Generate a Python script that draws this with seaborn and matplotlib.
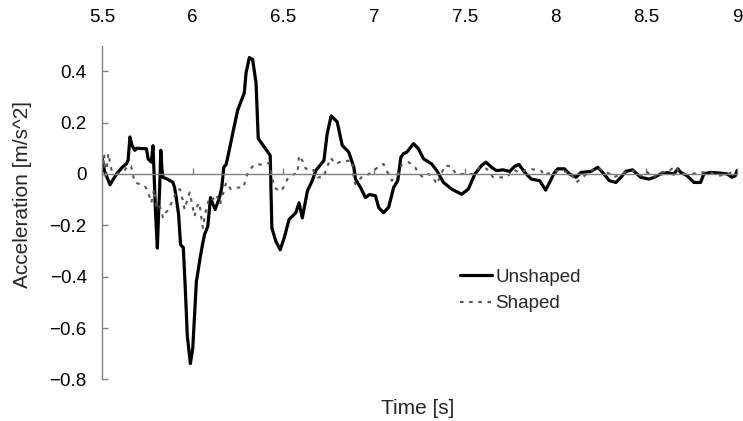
import numpy as np
import pandas as pd
import matplotlib
matplotlib.use('Agg')
import matplotlib.pyplot as plt
import seaborn as sns

sns.set_theme(style='white')
plt.rcParams['font.family'] = ['Liberation Sans', 'DejaVu Sans']
plt.rcParams['axes.unicode_minus'] = True

GRAY = '#808080'

# ── Data ──────────────────────────────────────────────────────────────────────
t_unshaped = [5.500, 5.513, 5.544, 5.580, 5.610, 5.635, 5.644, 5.654, 5.666, 5.681,
              5.690, 5.745, 5.754, 5.772, 5.781, 5.786, 5.795, 5.805, 5.812, 5.818,
              5.824, 5.830, 5.836, 5.860, 5.891, 5.900, 5.909, 5.922, 5.933, 5.948,
              5.959, 5.970, 5.987, 6.000, 6.012, 6.020, 6.040, 6.055, 6.065, 6.083,
              6.098, 6.111, 6.124, 6.147, 6.160, 6.171, 6.184, 6.193, 6.220, 6.248,
              6.284, 6.294, 6.312, 6.330, 6.349, 6.361, 6.394, 6.427, 6.432, 6.436,
              6.458, 6.482, 6.504, 6.531, 6.568, 6.586, 6.604, 6.632, 6.659, 6.678,
              6.723, 6.741, 6.763, 6.796, 6.824, 6.860, 6.888, 6.897, 6.925, 6.952,
              6.975, 7.007, 7.025, 7.052, 7.080, 7.107, 7.130, 7.147, 7.162, 7.180,
              7.217, 7.244, 7.272, 7.317, 7.345, 7.382, 7.427, 7.482, 7.519, 7.555,
              7.592, 7.616, 7.647, 7.674, 7.711, 7.747, 7.775, 7.798, 7.830, 7.866,
              7.912, 7.945, 7.967, 7.994, 8.012, 8.049, 8.076, 8.113, 8.140, 8.195,
              8.232, 8.259, 8.296, 8.332, 8.360, 8.387, 8.424, 8.469, 8.515, 8.543,
              8.579, 8.616, 8.652, 8.674, 8.689, 8.725, 8.762, 8.799, 8.817, 8.853,
              8.899, 8.945, 8.973, 8.990, 9.000]
a_unshaped = [0.065, 0.013, -0.042, 0.000, 0.025, 0.040, 0.055, 0.144, 0.110, 0.092,
              0.100, 0.098, 0.059, 0.046, 0.110, 0.020, -0.150, -0.289, -0.150, -0.050,
              0.092, 0.020, -0.013, -0.020, -0.033, -0.053, -0.092, -0.157, -0.276, -0.286,
              -0.446, -0.630, -0.738, -0.680, -0.525, -0.420, -0.330, -0.270, -0.236, -0.204,
              -0.092, -0.118, -0.138, -0.092, -0.053, 0.026, 0.037, 0.065, 0.157, 0.249,
              0.315, 0.394, 0.453, 0.446, 0.354, 0.138, 0.105, 0.072, -0.080, -0.210,
              -0.262, -0.295, -0.249, -0.177, -0.151, -0.112, -0.171, -0.066, -0.026, 0.013,
              0.052, 0.157, 0.226, 0.203, 0.111, 0.085, 0.026, -0.020, -0.053, -0.092,
              -0.080, -0.085, -0.131, -0.151, -0.129, -0.053, -0.026, 0.065, 0.079, 0.085,
              0.118, 0.098, 0.059, 0.039, 0.013, -0.033, -0.059, -0.079, -0.059, 0.000,
              0.033, 0.046, 0.026, 0.013, 0.016, 0.010, 0.030, 0.037, 0.006, -0.020,
              -0.026, -0.063, -0.033, 0.006, 0.020, 0.020, 0.000, -0.013, 0.006, 0.010,
              0.026, 0.006, -0.026, -0.033, -0.013, 0.010, 0.016, -0.013, -0.020, -0.013,
              0.000, 0.005, 0.000, 0.020, 0.006, -0.007, -0.033, -0.033, 0.000, 0.006,
              0.004, 0.000, -0.013, -0.007, 0.013]

t_shaped = [5.505, 5.512, 5.520, 5.535, 5.553, 5.580, 5.620, 5.644, 5.660, 5.680,
            5.710, 5.736, 5.754, 5.772, 5.787, 5.800, 5.815, 5.827, 5.836, 5.852,
            5.868, 5.891, 5.918, 5.930, 5.946, 5.955, 5.970, 5.983, 6.000, 6.010,
            6.025, 6.037, 6.046, 6.056, 6.070, 6.092, 6.110, 6.130, 6.150, 6.170,
            6.184, 6.210, 6.240, 6.280, 6.294, 6.310, 6.340, 6.380, 6.394, 6.420,
            6.450, 6.476, 6.490, 6.522, 6.560, 6.577, 6.586, 6.604, 6.623, 6.660,
            6.687, 6.720, 6.741, 6.760, 6.787, 6.824, 6.879, 6.888, 6.897, 6.933,
            6.960, 6.997, 7.020, 7.052, 7.080, 7.098, 7.135, 7.153, 7.190, 7.226,
            7.244, 7.270, 7.300, 7.325, 7.345, 7.370, 7.390, 7.427, 7.450, 7.500,
            7.540, 7.583, 7.620, 7.656, 7.690, 7.730, 7.770, 7.800, 7.857, 7.920,
            7.940, 7.970, 7.990, 8.040, 8.080, 8.113, 8.150, 8.180, 8.230, 8.260,
            8.300, 8.320, 8.360, 8.400, 8.430, 8.470, 8.500, 8.540, 8.570, 8.620,
            8.660, 8.690, 8.750, 8.800, 8.850, 8.900, 8.950, 8.990]
a_shaped = [0.040, 0.075, -0.020, 0.080, 0.013, 0.000, 0.010, 0.033, 0.030, -0.033,
            -0.040, -0.046, -0.072, -0.112, -0.059, -0.130, -0.120, -0.144, -0.171, -0.150,
            -0.138, -0.098, -0.059, -0.060, -0.105, -0.138, -0.100, -0.072, -0.131, -0.164,
            -0.125, -0.112, -0.164, -0.210, -0.150, -0.092, -0.100, -0.080, -0.118, -0.070,
            -0.033, -0.059, -0.053, -0.053, -0.013, 0.013, 0.037, 0.037, 0.042, 0.042,
            -0.053, -0.066, -0.066, -0.020, 0.000, 0.000, 0.072, 0.052, 0.020, 0.020,
            -0.013, -0.013, 0.026, 0.063, 0.039, 0.050, 0.052, -0.026, -0.040, -0.010,
            -0.005, 0.013, 0.026, 0.039, -0.003, -0.026, 0.006, 0.039, 0.046, 0.026,
            0.002, -0.013, 0.000, -0.013, -0.040, 0.000, 0.033, 0.029, 0.000, 0.000,
            0.000, 0.026, 0.020, -0.013, -0.013, -0.013, 0.016, 0.005, 0.020, 0.013,
            -0.007, 0.006, 0.013, 0.010, 0.006, -0.033, -0.013, 0.006, 0.026, 0.013,
            0.000, -0.013, 0.000, 0.012, 0.013, -0.007, 0.010, -0.013, 0.006, 0.010,
            0.029, 0.000, 0.000, 0.006, 0.006, -0.007, 0.000, 0.013]

x_ticks = [5.5, 6, 6.5, 7, 7.5, 8, 8.5, 9]
x_ticklabels = ['5.5', '6', '6.5', '7', '7.5', '8', '8.5', '9']
y_ticks = [-0.8, -0.6, -0.4, -0.2, 0, 0.2, 0.4]
y_ticklabels = ['\u22120.8', '\u22120.6', '\u22120.4', '\u22120.2', '0', '0.2', '0.4']

# ── Plot ──────────────────────────────────────────────────────────────────────
fig = plt.figure(figsize=(7.43, 4.21), dpi=100)
ax = fig.add_axes([0.1373, 0.0986, 0.8547, 0.7933])

sns.lineplot(x=t_unshaped, y=a_unshaped, ax=ax, color='black',
             linewidth=2.3, label='Unshaped', sort=False)
sns.lineplot(x=t_shaped, y=a_shaped, ax=ax, color='#555555',
             linewidth=1.5, label='Shaped', sort=False)
ax.lines[1].set_linestyle((0, (1.7, 2.7)))

ax.set_xlim(5.5, 9)
ax.set_ylim(-0.8, 0.5)

# spines: left axis + zero line, no box
for s in ['top', 'right']:
    ax.spines[s].set_visible(False)
ax.spines['left'].set_color(GRAY)
ax.spines['left'].set_linewidth(1.0)
ax.spines['bottom'].set_position(('data', 0))
ax.spines['bottom'].set_color(GRAY)
ax.spines['bottom'].set_linewidth(1.0)

ax.set_xticks(x_ticks)
ax.set_xticklabels(x_ticklabels)
ax.set_yticks(y_ticks)
ax.set_yticklabels(y_ticklabels)
ax.tick_params(axis='x', direction='in', length=4, width=1, color=GRAY,
               bottom=True, top=False, labelbottom=False, labeltop=True,
               pad=14, labelsize=13.5, labelcolor='black')
ax.tick_params(axis='y', direction='in', length=4, width=1, color=GRAY,
               left=True, pad=11, labelsize=13.5, labelcolor='black')

ax.set_xlabel('Time [s]', fontsize=15)
ax.xaxis.set_label_coords(0.497, -0.058)
ax.set_ylabel('Acceleration [m/s^2]', fontsize=15)
ax.yaxis.set_label_coords(-0.11, 0.554)

ax.legend(loc='center left', bbox_to_anchor=(0.619, 0.3104),
          bbox_transform=fig.transFigure, frameon=False, fontsize=13.5,
          handlelength=1.7, handletextpad=0.2, labelspacing=0.5,
          borderpad=0, borderaxespad=0)

fig.savefig('out.png', dpi=100, facecolor='white')
